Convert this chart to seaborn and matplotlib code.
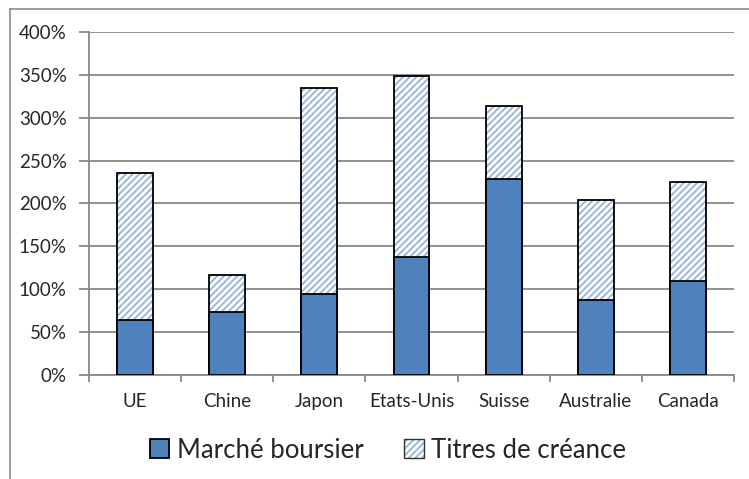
import numpy as np
import pandas as pd
import matplotlib.pyplot as plt
import seaborn as sns
from matplotlib.patches import Patch
from matplotlib.lines import Line2D

# Data (in %)
pays = ['UE', 'Chine', 'Japon', 'Etats-Unis', 'Suisse', 'Australie', 'Canada']
marche_boursier = [64, 73, 94, 138, 228, 87, 110]
titres_creance = [172, 43.5, 241, 211, 86, 117, 115]

df = pd.DataFrame({'pays': pays,
                   'bourse': marche_boursier,
                   'titres': titres_creance})
df['total'] = df['bourse'] + df['titres']

sns.set_style('white')
plt.rcParams['font.family'] = ['Lato', 'DejaVu Sans']
plt.rcParams['hatch.linewidth'] = 1.3

blue = '#4F81BD'
hatch_blue = '#95B3D7'
grid_col = '#888888'

fig = plt.figure(figsize=(7.49, 4.79), dpi=100)
ax = fig.add_axes([89 / 749, 1 - 375 / 479, (734 - 89) / 749, (375 - 32) / 479])

# hatched top part (drawn as full height, lower part covered by bourse bars)
sns.barplot(data=df, x='pays', y='total', order=pays, color='white',
            edgecolor=hatch_blue, linewidth=0, hatch='/////', width=0.39,
            ax=ax, zorder=2)
sns.barplot(data=df, x='pays', y='total', order=pays, fill=False,
            edgecolor='black', linewidth=1.3, width=0.39, ax=ax, zorder=3)
sns.barplot(data=df, x='pays', y='bourse', order=pays, color=blue,
            saturation=1, edgecolor='black', linewidth=1.3, width=0.39,
            ax=ax, zorder=4)

ax.set_ylim(0, 400)
ax.set_xlim(-0.5, len(pays) - 0.5)
ax.set_yticks(np.arange(0, 401, 50))
ax.set_yticklabels([f'{v}%' for v in range(0, 401, 50)])
ax.set_xlabel('')
ax.set_ylabel('')
ax.grid(axis='y', color=grid_col, linewidth=1.3, zorder=0)
ax.set_axisbelow(True)

for s in ['top', 'right']:
    ax.spines[s].set_visible(False)
for s in ['left', 'bottom']:
    ax.spines[s].set_color(grid_col)
    ax.spines[s].set_linewidth(1.3)

ax.tick_params(axis='y', length=7, width=1.3, color=grid_col, pad=9,
               labelsize=13.5, left=True)
ax.tick_params(axis='x', which='major', length=0, pad=13, labelsize=13.5)
ax.set_xticks(np.arange(-0.5, len(pays), 1), minor=True)
ax.tick_params(axis='x', which='minor', length=5, width=1.3, color=grid_col,
               bottom=True)

# outer chart frame (only top and left edges visible)
fig.add_artist(Line2D([10 / 749, 1], [1 - 9 / 479, 1 - 9 / 479],
                      transform=fig.transFigure, color='#8c8c8c', lw=1.2))
fig.add_artist(Line2D([10 / 749, 10 / 749], [1 - 9 / 479, 0],
                      transform=fig.transFigure, color='#8c8c8c', lw=1.2))

h_bourse = Patch(facecolor=blue, edgecolor='black', linewidth=1.3)
h_titres = (Patch(facecolor='white', edgecolor=hatch_blue, hatch='/////',
                  linewidth=0),
            Patch(facecolor='none', edgecolor='#333333', linewidth=1.0))
fig.legend([h_bourse, h_titres], ['Marché boursier', 'Titres de créance'],
           loc='center', bbox_to_anchor=(388 / 749, 1 - 450 / 479),
           ncol=2, frameon=False, fontsize=18.5, handlelength=0.75,
           handleheight=0.75, handletextpad=0.3, columnspacing=1.6)

fig.savefig('out.png', dpi=100)
